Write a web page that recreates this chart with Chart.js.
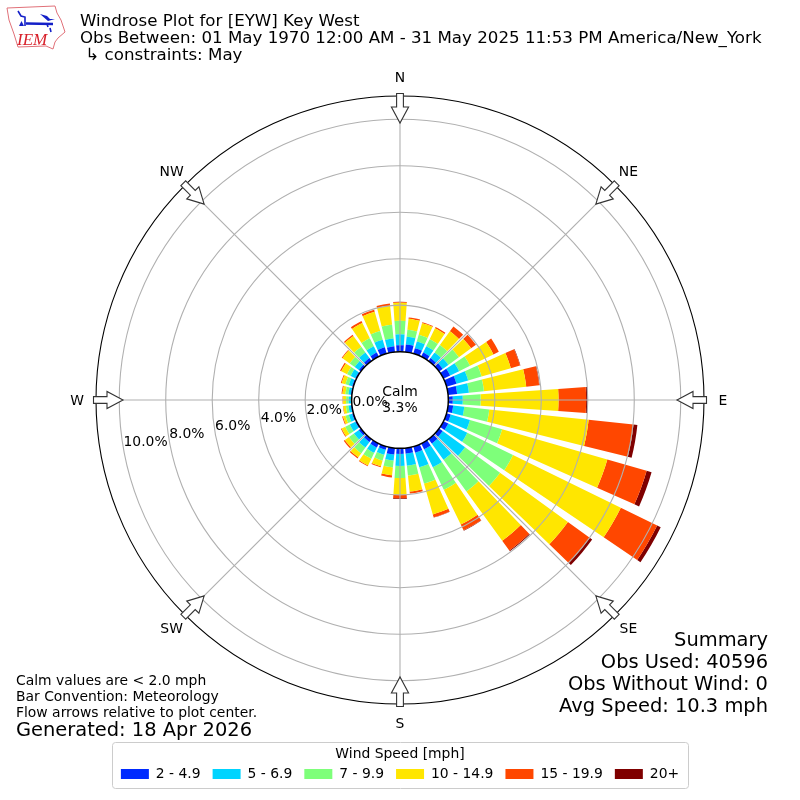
<!DOCTYPE html>
<html>
<head>
<meta charset="utf-8">
<title>Windrose Plot for [EYW] Key West</title>
<script src="https://cdn.jsdelivr.net/npm/chart.js@4.4.0/dist/chart.umd.min.js"></script>
<style>
  html, body { margin: 0; padding: 0; background: #fff; }
  #wrap { position: relative; width: 800px; height: 800px; overflow: hidden; font-family: "DejaVu Sans", sans-serif; color: #000; }
  canvas { position: absolute; left: 0; top: 0; }
  .txt { position: absolute; white-space: nowrap; }
  #logo { position: absolute; left: 0; top: 0; }
</style>
</head>
<body>
<div id="wrap">
  <canvas id="rose" width="800" height="800"></canvas>
  <svg id="logo" width="70" height="55" viewBox="0 0 70 55">
    <path d="M7 8 L55 6 L57 13 L61 20 L65 32 L58 38 L55 42 L53 49 L46 46 L18 47 L14 34 L9 20 Z" fill="none" stroke="#e07078" stroke-width="1"/>
    <path d="M26 23.5 L53 24" stroke="#1420c8" stroke-width="2.5" fill="none"/>
    <path d="M18 11 L21 16 L25 17 L25 26 M47 24 L48 27 M50 28 L51 32" stroke="#1420c8" stroke-width="1.6" fill="none"/>
    <path d="M40 14 L47 16 L50 19 L55 19 L48 21 Z" fill="#1420c8"/>
    <path d="M19 26 L21.5 21 L24 26 Z" fill="#1420c8"/>
    <text x="17" y="45" font-family="Liberation Serif" font-style="italic" font-size="17" fill="#d8202a">IEM</text>
  </svg>
  <div class="txt" style="left:80px;top:10.5px;font-size:16.67px">Windrose Plot for [EYW] Key West</div>
  <div class="txt" style="left:80px;top:27.5px;font-size:16.67px">Obs Between: 01 May 1970 12:00 AM - 31 May 2025 11:53 PM America/New_York</div>
  <div class="txt" style="left:80px;top:44.5px;font-size:16.67px">&nbsp;↳ constraints: May</div>
  <div class="txt" style="left:360px;width:80px;text-align:center;top:383px;font-size:13.9px">Calm</div>
  <div class="txt" style="left:360px;width:80px;text-align:center;top:399px;font-size:13.9px">3.3%</div>
  <div class="txt" style="right:32px;top:628px;font-size:19.44px">Summary</div>
  <div class="txt" style="right:32px;top:650px;font-size:19.44px">Obs Used: 40596</div>
  <div class="txt" style="right:32px;top:672px;font-size:19.44px">Obs Without Wind: 0</div>
  <div class="txt" style="right:32px;top:694px;font-size:19.44px">Avg Speed: 10.3 mph</div>
  <div class="txt" style="left:16px;top:672px;font-size:13.9px">Calm values are &lt; 2.0 mph</div>
  <div class="txt" style="left:16px;top:688px;font-size:13.9px">Bar Convention: Meteorology</div>
  <div class="txt" style="left:16px;top:704px;font-size:13.9px">Flow arrows relative to plot center.</div>
  <div class="txt" style="left:16px;top:718px;font-size:19.44px">Generated: 18 Apr 2026</div>
</div>
<script>
const directions = [0, 10, 20, 30, 40, 50, 60, 70, 80, 90, 100, 110, 120, 130, 140, 150, 160, 170,
  180, 190, 200, 210, 220, 230, 240, 250, 260, 270, 280, 290, 300, 310, 320, 330, 340, 350];

const speed2to5 = [.28, .32, .24, .19, .15, .19, .32, .45, .39, .19, .22, .19, .23, .19, .24, .28, .28, .24,
  .24, .28, .15, .19, .15, .11, .06, .06, .04, .02, .04, .06, .06, .11, .15, .19, .28, .24];
const speed5to7 = [.47, .34, .30, .30, .30, .30, .43, .52, .51, .43, .48, .86, .91, 1.19, .86, .86, .65, .52,
  .52, .26, .22, .26, .30, .26, .26, .15, .11, .11, .11, .15, .22, .22, .30, .30, .34, .34];
const speed7to10 = [.58, .30, .30, .34, .39, .56, .52, .60, .65, .77, 1.08, 1.44, 2.19, 1.86, 1.68, 1.08, .73, .43,
  .52, .30, .26, .28, .30, .26, .22, .15, .11, .11, .13, .15, .17, .26, .30, .39, .39, .60];
const speed10to15 = [.77, .47, .52, .52, .73, .65, 1.12, 1.31, 1.83, 3.35, 4.30, 4.71, 5.16, 3.61, 2.62, 1.66, 1.38, .69,
  .73, .34, .26, .32, .22, .22, .17, .11, .11, .13, .13, .17, .28, .39, .58, .73, .86, .82];
const speed15to20 = [.04, .06, .04, .06, .26, .26, .26, .41, .56, 1.19, 1.94, 1.76, 1.74, 1.16, .52, .28, .13, .09,
  .14, .09, .04, .04, .06, .06, .04, .04, .02, .02, .04, .04, .06, .04, .06, .09, .09, .09];
const speed20up = [.01, 0, 0, 0, 0, 0, 0, .02, .02, .06, .17, .22, .17, .13, .04, .02, .01, 0,
  .03, 0, 0, 0, 0, 0, 0, 0, 0, 0, 0, 0, 0, 0, 0, 0, 0, 0];

const speedLabels = ['2 - 4.9', '5 - 6.9', '7 - 9.9', '10 - 14.9', '15 - 19.9', '20+'];
const speedColors = ['#002aff', '#00d4ff', '#7eff7a', '#ffe600', '#ff4700', '#7f0000'];
const speedSeries = [speed2to5, speed5to7, speed7to10, speed10to15, speed15to20, speed20up];

const radialTicks = [2, 4, 6, 8, 10];
const compass = [['N', 0], ['NE', 45], ['E', 90], ['SE', 135], ['S', 180], ['SW', 225], ['W', 270], ['NW', 315]];

const BAR_DEG = 8;
const R_MIN = -2.08;
const R_MAX = 11;
const GRID = '#b0b0b0';
const FONT = '13.9px "DejaVu Sans"';

// polar area that stacks the datasets and leaves a gap between the directions
class WindroseController extends Chart.PolarAreaController {
  updateElement(arc, index, props, mode) {
    const scale = this._cachedMeta.rScale;
    let below = 0;
    for (let d = 0; d < this.index; d++) below += this.chart.data.datasets[d].data[index];
    const value = this.getDataset().data[index];
    const mid = scale.getIndexAngle(index) - Math.PI / 2;
    const half = (BAR_DEG / 2) * Math.PI / 180;
    props.innerRadius = scale.getDistanceFromCenterForValue(below);
    props.outerRadius = scale.getDistanceFromCenterForValue(below + value);
    props.startAngle = mid - half;
    props.endAngle = mid + half;
    super.updateElement(arc, index, props, mode);
  }
}
WindroseController.id = 'windrose';
WindroseController.defaults = Chart.PolarAreaController.defaults;
WindroseController.overrides = Chart.PolarAreaController.overrides;
Chart.register(WindroseController);

function polar(scale, bearing, r) {
  const a = bearing * Math.PI / 180;
  return [scale.xCenter + r * Math.sin(a), scale.yCenter - r * Math.cos(a)];
}

const roseDecor = {
  id: 'roseDecor',
  beforeDraw(chart) {
    const ctx = chart.ctx;
    ctx.save();
    ctx.strokeStyle = '#cccccc';
    ctx.lineWidth = 1;
    ctx.beginPath();
    ctx.roundRect(112.5, 742.5, 576, 46, 3);
    ctx.stroke();
    ctx.restore();
  },
  afterDatasetsDraw(chart) {
    const ctx = chart.ctx;
    const scale = chart.scales.r;
    const r0 = scale.getDistanceFromCenterForValue(0);
    const rEnd = scale.getDistanceFromCenterForValue(R_MAX);
    ctx.save();
    ctx.strokeStyle = GRID;
    ctx.lineWidth = 1.1;
    compass.forEach(([, deg]) => {
      const [x, y] = polar(scale, deg, rEnd);
      ctx.beginPath();
      ctx.moveTo(scale.xCenter, scale.yCenter);
      ctx.lineTo(x, y);
      ctx.stroke();
    });
    ctx.fillStyle = '#fff';
    ctx.strokeStyle = '#000';
    ctx.lineWidth = 1.5;
    ctx.beginPath();
    ctx.arc(scale.xCenter, scale.yCenter, r0, 0, Math.PI * 2);
    ctx.fill();
    ctx.stroke();
    ctx.restore();
  },
  afterDraw(chart) {
    const ctx = chart.ctx;
    const scale = chart.scales.r;
    ctx.save();
    ctx.font = FONT;
    ctx.fillStyle = '#000';

    // radial tick labels sit along the 260 degree ray
    ctx.textAlign = 'left';
    ctx.textBaseline = 'alphabetic';
    [0, ...radialTicks].forEach(v => {
      const [x, y] = polar(scale, 260, scale.getDistanceFromCenterForValue(v));
      ctx.fillText(v.toFixed(1) + '%', x, y - 2.5);
    });

    ctx.textAlign = 'center';
    ctx.textBaseline = 'middle';
    compass.forEach(([name, deg]) => {
      const [x, y] = polar(scale, deg, 323);
      ctx.fillText(name, x, y + 1);
      drawArrow(ctx, scale, deg);
    });
    ctx.restore();
  }
};

function drawArrow(ctx, scale, deg) {
  ctx.save();
  ctx.translate(scale.xCenter, scale.yCenter);
  ctx.rotate(deg * Math.PI / 180);
  ctx.beginPath();
  ctx.moveTo(-3.4, -306.5);
  ctx.lineTo(3.4, -306.5);
  ctx.lineTo(3.4, -293);
  ctx.lineTo(8.6, -293);
  ctx.lineTo(0, -277);
  ctx.lineTo(-8.6, -293);
  ctx.lineTo(-3.4, -293);
  ctx.closePath();
  ctx.fillStyle = '#fff';
  ctx.fill();
  ctx.strokeStyle = '#333';
  ctx.lineWidth = 1.1;
  ctx.stroke();
  ctx.restore();
}

new Chart(document.getElementById('rose'), {
  type: 'windrose',
  data: {
    labels: directions,
    datasets: speedSeries.map((values, i) => ({
      label: speedLabels[i],
      data: values,
      backgroundColor: speedColors[i],
      borderWidth: 0
    }))
  },
  options: {
    responsive: false,
    devicePixelRatio: 1,
    animation: false,
    layout: { padding: { left: 96, right: 96, top: 96, bottom: 9 } },
    scales: {
      r: {
        type: 'radialLinear',
        min: R_MIN,
        max: R_MAX,
        startAngle: 0,
        afterBuildTicks: scale => {
          scale.ticks = [...radialTicks, R_MAX].map(value => ({ value }));
        },
        ticks: { display: false },
        angleLines: { display: false },
        pointLabels: { display: false },
        grid: {
          circular: true,
          z: 1,
          lineWidth: 1.1,
          color: ctx => (ctx.tick && ctx.tick.value === R_MAX ? '#000' : GRID)
        }
      }
    },
    plugins: {
      tooltip: { enabled: false },
      legend: {
        display: true,
        position: 'bottom',
        title: {
          display: true,
          text: 'Wind Speed [mph]',
          color: '#000',
          font: { family: '"DejaVu Sans"', size: 13.9 },
          padding: { top: 42, bottom: -9 }
        },
        labels: {
          boxWidth: 28,
          boxHeight: 10,
          padding: 12,
          color: '#000',
          font: { family: '"DejaVu Sans"', size: 13.9 },
          generateLabels: chart => chart.data.datasets.map((d, i) => ({
            text: d.label,
            fillStyle: d.backgroundColor,
            strokeStyle: d.backgroundColor,
            lineWidth: 0,
            datasetIndex: i
          }))
        }
      }
    }
  },
  plugins: [roseDecor]
});
</script>
</body>
</html>
